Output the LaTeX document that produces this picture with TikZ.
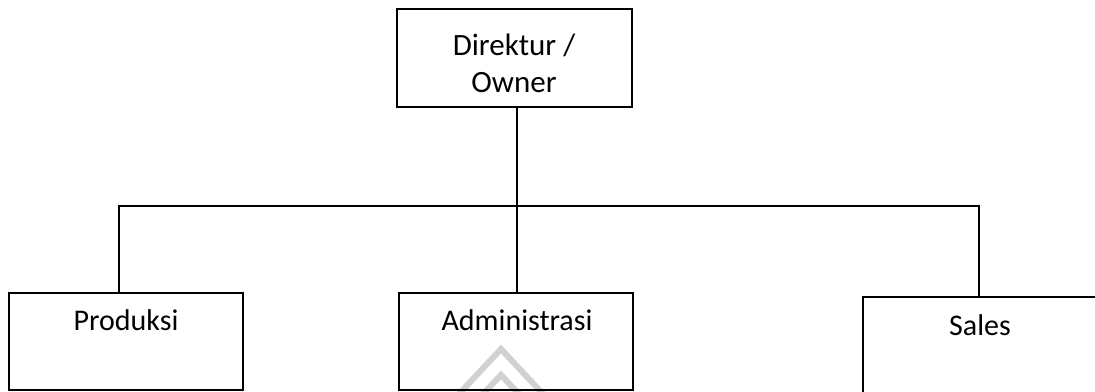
\documentclass[tikz,border=0pt]{standalone}
\usepackage{fontspec}
\setmainfont{Carlito}
\begin{document}
\begin{tikzpicture}[x=1pt,y=-1pt,
  orgbox/.style={draw=black,line width=1.6pt,fill=none},
  conn/.style={draw=black,line width=1.6pt},
  lbl/.style={anchor=base,inner sep=0pt,font=\fontsize{30}{36}\selectfont},
  wm/.style={draw=black!18,line width=6pt}]
\useasboundingbox (0,0) rectangle (1095,391);
\begin{scope}
\clip (0,0) rectangle (1095,391);
% watermark
\draw[wm] (458,395) -- (501,349) -- (544,395);
\draw[wm] (482,395) -- (501,375) -- (520,395);
% boxes
\draw[orgbox] (397,9) rectangle (632,107);
\draw[orgbox] (9,293) rectangle (243,390);
\draw[orgbox] (399,293) rectangle (633,390);
\draw[orgbox] (863,297) rectangle (1100,400);
\coordinate (owner) at (517,107);
\coordinate (hub) at (517,206);
\coordinate (hl) at (119,206);
\coordinate (hr) at (979,206);
\coordinate (prod) at (119,293);
\coordinate (adm) at (517,293);
\coordinate (sal) at (979,297);
\draw[conn] (owner) -- (hub);
\draw[conn] (prod) -- (hl) -- (hr) -- (sal);
\draw[conn] (hub) -- (adm);
\node[lbl,font=\fontsize{31}{37}\selectfont] (t1) at (514,55) {Direktur /};
\node[lbl,font=\fontsize{31}{37}\selectfont] (t2) at (514,92) {Owner};
\node[lbl] (t3) at (126,330) {Produksi};
\node[lbl] (t4) at (517,330) {Administrasi};
\node[lbl] (t5) at (980,335) {Sales};
\end{scope}
\end{tikzpicture}
\end{document}
